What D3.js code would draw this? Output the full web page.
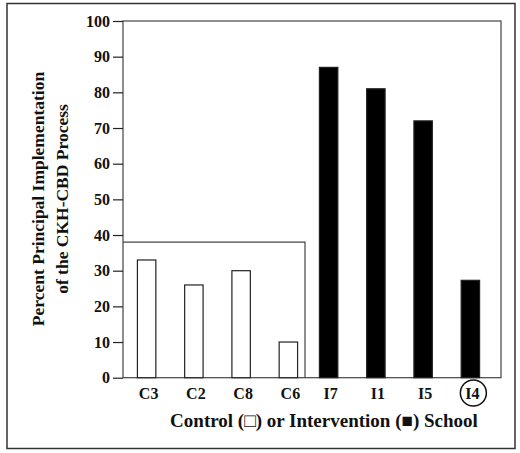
<!DOCTYPE html>
<html><head><meta charset="utf-8">
<script src="https://cdn.jsdelivr.net/npm/d3@7"></script>
<style>body{margin:0;background:#fff}text{font-family:"Liberation Serif","Times New Roman",serif;font-weight:bold}</style>
</head><body><svg id="c" width="520" height="453"></svg>
<script>
var schools = ['C3', 'C2', 'C8', 'C6', 'I7', 'I1', 'I5', 'I4'];
var values = [33, 26, 30, 10, 87, 81, 72, 27.3];
var groups = ['control', 'control', 'control', 'control', 'intervention', 'intervention', 'intervention', 'intervention'];
var yTicks = [0, 10, 20, 30, 40, 50, 60, 70, 80, 90, 100];
var controlBoxValue = 38;

var svg = d3.select('#c');
var m = {left: 123, right: 501, top: 21, bottom: 377.7};

svg.append('rect').attr('x', 7).attr('y', 3.5).attr('width', 508).attr('height', 445)
  .attr('fill', 'none').attr('stroke', '#333').attr('stroke-width', 1.5);

var x = d3.scaleBand().domain(schools).range([m.left, m.right]).paddingInner(0.61).paddingOuter(0.305);
var y = d3.scaleLinear().domain([0, 100]).range([m.bottom, m.top]);
// intervention bars sit a little left of their band
function bx(d, i) { return x(d) + (groups[i] === 'intervention' ? -7 : 0); }

// plot frame
svg.append('rect').attr('x', m.left).attr('y', m.top).attr('width', m.right - m.left).attr('height', m.bottom - m.top)
  .attr('fill', 'none').attr('stroke', '#444').attr('stroke-width', 1.2);

// control group box
svg.append('path').attr('d', 'M' + m.left + ',' + y(controlBoxValue) + 'H305V' + m.bottom)
  .attr('fill', 'none').attr('stroke', '#444').attr('stroke-width', 1.2);

svg.selectAll('.bar').data(schools).enter().append('rect').attr('class', 'bar')
  .attr('x', function (d, i) { return bx(d, i); })
  .attr('width', x.bandwidth())
  .attr('y', function (d, i) { return y(values[i]); })
  .attr('height', function (d, i) { return m.bottom - y(values[i]); })
  .attr('fill', function (d, i) { return groups[i] === 'control' ? '#fff' : '#000'; })
  .attr('stroke', '#222').attr('stroke-width', 1.2);

var yAxis = svg.append('g').attr('transform', 'translate(' + m.left + ',0)')
  .call(d3.axisLeft(y).tickValues(yTicks).tickSize(10).tickPadding(3));
yAxis.select('.domain').remove();
yAxis.selectAll('line').attr('stroke', '#222').attr('stroke-width', 1.2);
yAxis.selectAll('text').attr('font-size', 16).attr('fill', '#111')
  .style('font-family', '"Liberation Serif",serif').style('font-weight', 'bold');

svg.selectAll('.xl').data(schools).enter().append('text').attr('class', 'xl')
  .attr('x', function (d, i) { return bx(d, i) + x.bandwidth() / 2 + 2; })
  .attr('y', 399).attr('text-anchor', 'middle').attr('font-size', 16).attr('fill', '#111')
  .text(function (d) { return d; });

svg.append('circle').attr('cx', bx('I4', 7) + x.bandwidth() / 2 + 3).attr('cy', 393).attr('r', 13)
  .attr('fill', 'none').attr('stroke', '#111').attr('stroke-width', 1.5);

svg.append('text').attr('x', 324).attr('y', 427).attr('text-anchor', 'middle').attr('font-size', 19).attr('fill', '#111')
  .text('Control (\u25A1) or Intervention (\u25A0) School');

var yl = svg.append('text').attr('transform', 'translate(44,199) rotate(-90)').attr('text-anchor', 'middle')
  .attr('font-size', 17.5).attr('fill', '#111');
yl.append('tspan').attr('x', 0).attr('dy', 0).text('Percent Principal Implementation');
yl.append('tspan').attr('x', 0).attr('dy', 24).text('of the CKH-CBD Process');
</script></body></html>
